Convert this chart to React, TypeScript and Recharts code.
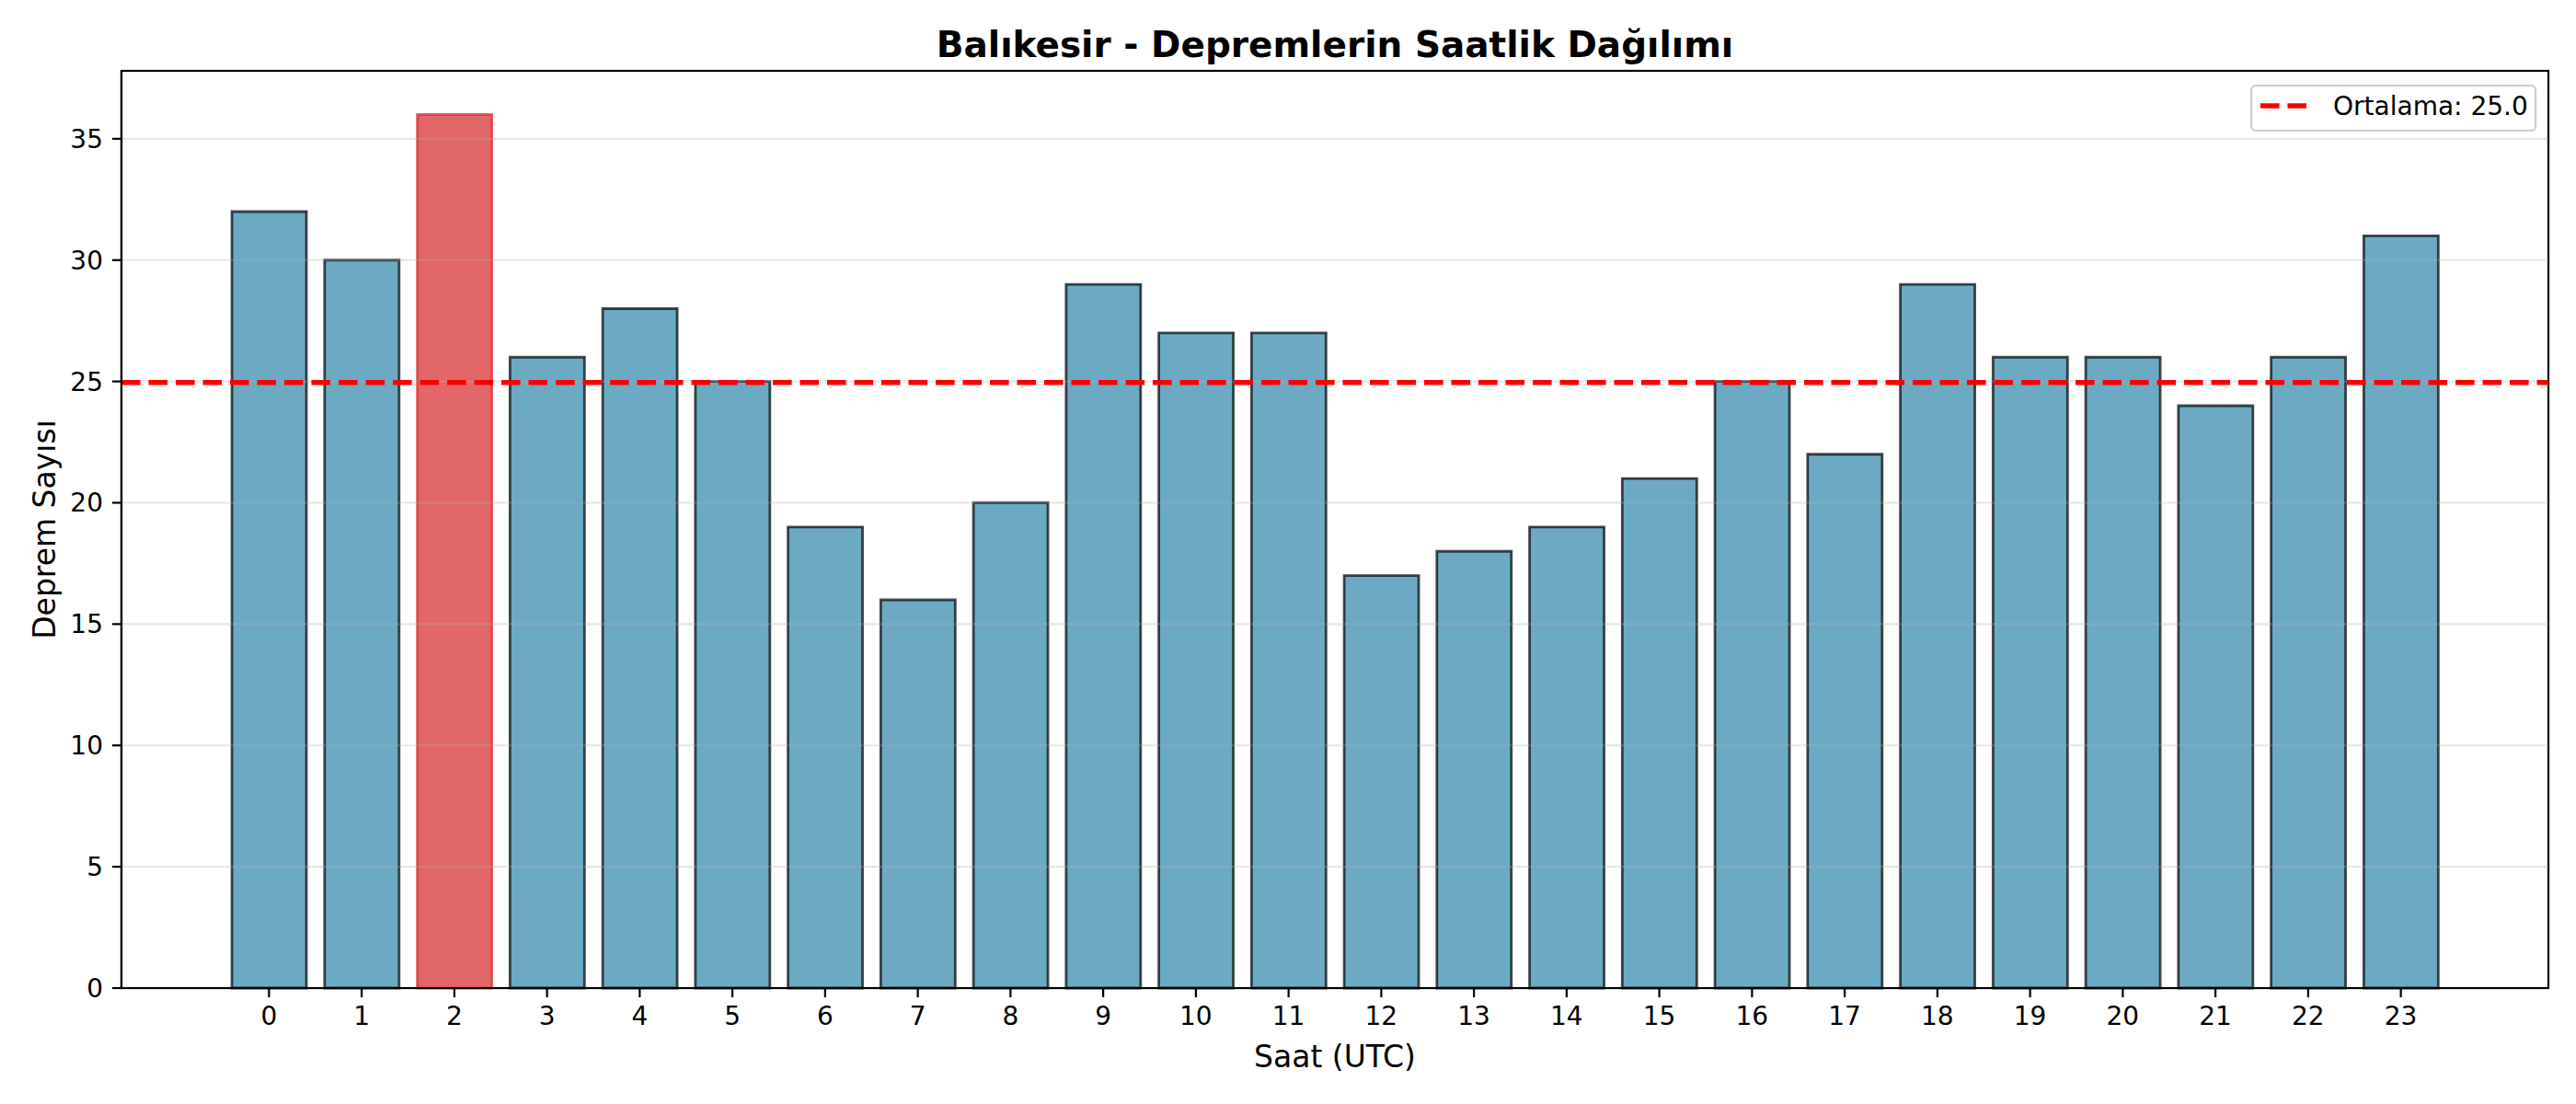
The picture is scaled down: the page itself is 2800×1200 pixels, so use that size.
import React from 'react';
import {
  BarChart,
  Bar,
  Cell,
  XAxis,
  YAxis,
  ReferenceLine,
} from 'recharts';

// hourly counts, hour 0..23 (UTC)
const hours = [
  '0', '1', '2', '3', '4', '5', '6', '7', '8', '9', '10', '11',
  '12', '13', '14', '15', '16', '17', '18', '19', '20', '21', '22', '23',
];
const counts = [32, 30, 36, 26, 28, 25, 19, 16, 20, 29, 27, 27, 17, 18, 19, 21, 25, 22, 29, 26, 26, 24, 26, 31];
const yTicks = [0, 5, 10, 15, 20, 25, 30, 35];

const chartData = hours.map((h, i) => ({ hour: h, count: counts[i] }));
const mean = counts.reduce((s, v) => s + v, 0) / counts.length;
const peakIndex = counts.indexOf(Math.max(...counts));

const FONT = '"DejaVu Sans", sans-serif';
const W = 2800;
const H = 1200;
const PLOT_LEFT = 132;
const PLOT_RIGHT = 2770;
const PLOT_TOP = 77;
const PLOT_BOTTOM = 1074;

const App: React.FC = () => {
  const cx = (PLOT_LEFT + PLOT_RIGHT) / 2;
  const cy = (PLOT_TOP + PLOT_BOTTOM) / 2;

  return (
    <div style={{ position: 'absolute', left: 0, top: 0, width: W, height: H, background: '#fff' }}>
      <BarChart
        width={W}
        height={H}
        data={chartData}
        margin={{ top: PLOT_TOP, right: W - PLOT_RIGHT, bottom: H - PLOT_BOTTOM - 40, left: PLOT_LEFT - 110 }}
        barCategoryGap="10%"
      >
        <XAxis
          dataKey="hour"
          height={40}
          padding={{ left: 110, right: 110 }}
          interval={0}
          tickSize={10}
          tickMargin={10}
          axisLine={{ stroke: '#000', strokeWidth: 2.2 }}
          tickLine={{ stroke: '#000', strokeWidth: 2.2 }}
          tick={{ fill: '#000', fontSize: 28, fontFamily: FONT }}
        />
        <YAxis
          type="number"
          width={110}
          domain={[0, 37.8]}
          ticks={yTicks}
          interval={0}
          tickSize={10}
          tickMargin={10}
          axisLine={{ stroke: '#000', strokeWidth: 2.2 }}
          tickLine={{ stroke: '#000', strokeWidth: 2.2 }}
          tick={{ fill: '#000', fontSize: 28, fontFamily: FONT }}
        />
        <Bar dataKey="count" isAnimationActive={false}>
          {chartData.map((_, i) => (
            <Cell
              key={i}
              fill={i === peakIndex ? '#d62728' : '#2E86AB'}
              fillOpacity={0.7}
              stroke={i === peakIndex ? '#d62728' : '#000'}
              strokeOpacity={0.7}
              strokeWidth={2.8}
            />
          ))}
        </Bar>
        {yTicks.map((t) => (
          <ReferenceLine key={t} y={t} stroke="#b0b0b0" strokeOpacity={0.3} strokeWidth={2.2} />
        ))}
        <ReferenceLine y={mean} stroke="#ff0000" strokeWidth={5.6} strokeDasharray="20.6 8.9" />

        {/* plot frame (top and right spines) */}
        <rect
          x={PLOT_LEFT}
          y={PLOT_TOP}
          width={PLOT_RIGHT - PLOT_LEFT}
          height={PLOT_BOTTOM - PLOT_TOP}
          fill="none"
          stroke="#000"
          strokeWidth={2.2}
        />

        {/* title */}
        <text x={cx} y={62} textAnchor="middle" fontFamily={FONT} fontSize={39} fontWeight="bold" fill="#000">
          Balıkesir - Depremlerin Saatlik Dağılımı
        </text>
        {/* axis labels */}
        <text x={cx} y={1160} textAnchor="middle" fontFamily={FONT} fontSize={33} fill="#000">
          Saat (UTC)
        </text>
        <text
          x={48}
          y={cy}
          dy="0.36em"
          textAnchor="middle"
          transform={`rotate(-90, 48, ${cy})`}
          fontFamily={FONT}
          fontSize={33}
          fill="#000"
        >
          Deprem Sayısı
        </text>
        {/* legend */}
        <g>
          <rect x={2447} y={93} width={309} height={49} rx={5} fill="#fff" fillOpacity={0.8} stroke="#cccccc" strokeWidth={2.2} />
          <line x1={2457} y1={115} x2={2507} y2={115} stroke="#ff0000" strokeWidth={5.6} strokeDasharray="20.6 8.9" />
          <text x={2536} y={125} fontFamily={FONT} fontSize={28} fill="#000">
            Ortalama: {mean.toFixed(1)}
          </text>
        </g>
      </BarChart>
    </div>
  );
};

export default App;
